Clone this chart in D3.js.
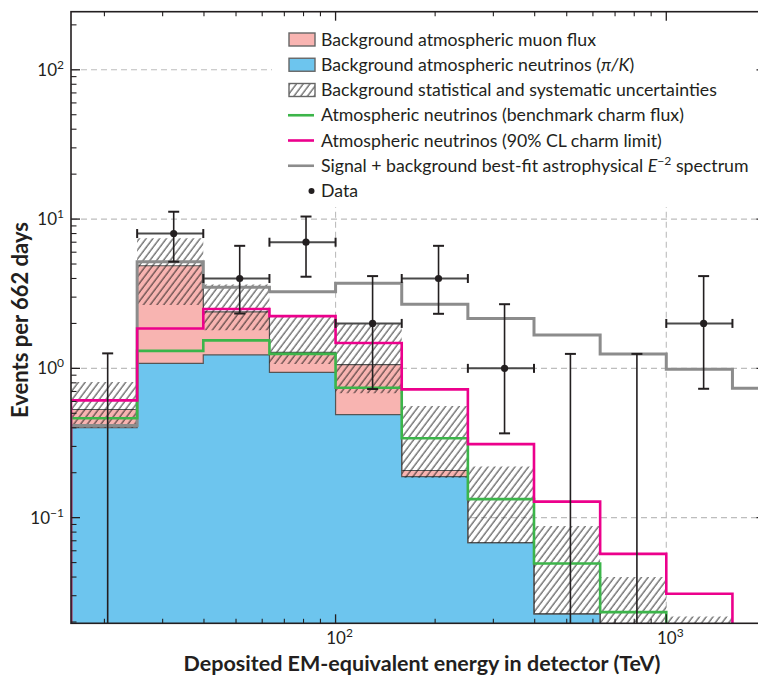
<!DOCTYPE html>
<html><head><meta charset="utf-8">
<script src="https://cdn.jsdelivr.net/npm/d3@7"></script>
<style>body{margin:0;background:#fff} svg{display:block} text{font-family:Lato,"Open Sans",sans-serif;fill:#231f20}</style>
</head><body>
<svg id="c" width="758" height="675"></svg>
<script>
// ---- data ----
const binEdges = [15.85, 25.12, 39.81, 63.10, 100, 158.5, 251.2, 398.1, 631.0, 1000, 1585, 2512];
const piKNeutrinos = [0.40, 1.08, 1.23, 0.94, 0.49, 0.188, 0.068, 0.0227];
const muonFlux = [0.13, 3.79, 1.16, 0.34, 0.57, 0.019, 0, 0];
const uncertHigh = [0.81, 7.45, 3.65, 2.22, 1.98, 0.56, 0.22, 0.088, 0.0401, 0.0218];
const uncertLow = [0.40, 2.66, 1.80, 1.07, 0.68, 0.185, 0.068, 0.0227, 0, 0];
const charmBenchmark = [0.463, 1.31, 1.54, 1.25, 0.742, 0.34, 0.133, 0.0493, 0.0233];
const charmLimit = [0.61, 1.85, 2.50, 2.24, 1.48, 0.723, 0.311, 0.128, 0.0572, 0.0309];
const signalPlusBg = [0.415, 5.18, 3.49, 3.26, 3.71, 2.69, 2.16, 1.67, 1.25, 0.985, 0.735];
const dataEnergy = [20.46, 32.4, 51.3, 81.4, 129.4, 204.8, 324.3, 513, 815, 1297];
const dataBin = [0, 1, 2, 3, 4, 5, 6, 7, 8, 9];
const dataCounts = [0, 8, 4, 7, 2, 4, 1, 0, 0, 2];
const dataErrHigh = [1.26, 11.2, 6.62, 10.4, 4.15, 6.62, 2.69, 1.25, 1.25, 4.15];
const dataErrLow = [0, 5.18, 2.33, 4.11, 0.727, 2.32, 0.367, 0, 0, 0.73];
const yTickValues = [0.1, 1, 10, 100];
const xTickValues = [100, 1000];
const legendLabels = [
  "Background atmospheric muon flux",
  "Background atmospheric neutrinos ",
  "Background statistical and systematic uncertainties",
  "Atmospheric neutrinos (benchmark charm flux)",
  "Atmospheric neutrinos (90% CL charm limit)",
  "Signal + background best-fit astrophysical ",
  "Data"
];
const xTitle = "Deposited EM-equivalent energy in detector (TeV)";
const yTitle = "Events per 662 days";

// ---- layout ----
const L = 71, R = 765.5, T = 11.7, B = 623.3;
const svg = d3.select("#c");
const x = d3.scaleLog().domain([Math.pow(10,1.2), Math.pow(10,3.3)]).range([L, R]);
const y = d3.scaleLog().domain([0.0196, 245]).range([B, T]);
const Y = v => (v && v > 0) ? y(v) : B + 3;

function fit(t, target){ const fs = +t.attr("font-size"); const w = t.node().getComputedTextLength(); t.attr("font-size", (fs*target/w).toFixed(2)); return fs*target/w; }

const defs = svg.append("defs");
defs.append("clipPath").attr("id","clip").append("rect").attr("x",L).attr("y",T).attr("width",R-L).attr("height",B-T);
const pat = defs.append("pattern").attr("id","hatch").attr("patternUnits","userSpaceOnUse")
  .attr("width",5.4).attr("height",10).attr("patternTransform","rotate(37)");
pat.append("line").attr("x1",1).attr("y1",-1).attr("x2",1).attr("y2",11).attr("stroke","#111").attr("stroke-width",0.9);

// gridlines
const grid = svg.append("g").attr("stroke","#bdbdbd").attr("stroke-width",1.1).attr("stroke-dasharray","6,4");
yTickValues.forEach(v => grid.append("line").attr("x1",L).attr("x2",R).attr("y1",y(v)).attr("y2",y(v)));
xTickValues.forEach(v => grid.append("line").attr("x1",x(v)).attr("x2",x(v)).attr("y1",T).attr("y2",B));

const plot = svg.append("g").attr("clip-path","url(#clip)");

function stepPts(vals){
  const p=[]; vals.forEach((v,i)=>{ p.push({e:binEdges[i],v}); p.push({e:binEdges[i+1],v}); }); return p;
}
const stackTop = piKNeutrinos.map((v,i)=>v+muonFlux[i]);

const areaG = d3.area().x(d=>x(d.e)).y0(B+3).y1(d=>Y(d.v));
plot.append("path").attr("d",areaG(stepPts(piKNeutrinos))).attr("fill","#6dc5ee").attr("stroke","none");
const bandG = d3.area().x(d=>x(d.e)).y0(d=>Y(d.v[0])).y1(d=>Y(d.v[1]));
plot.append("path").attr("d",bandG(stepPts(piKNeutrinos.map((v,i)=>[v,stackTop[i]]))))
  .attr("fill","#f8b4b1").attr("stroke","none");
const lineG = d3.line().x(d=>x(d.e)).y(d=>Y(d.v));
function stepLine(vals){ const p=stepPts(vals); p.unshift({e:binEdges[0],v:0}); p.push({e:binEdges[vals.length],v:0}); return lineG(p); }
plot.append("path").attr("d",stepLine(piKNeutrinos)).attr("fill","none").attr("stroke","#555").attr("stroke-width",1.2);
plot.append("path").attr("d",stepLine(stackTop)).attr("fill","none").attr("stroke","#555").attr("stroke-width",1.2);
plot.append("path").attr("d",bandG(stepPts(uncertLow.map((v,i)=>[v,uncertHigh[i]])))).attr("fill","url(#hatch)");
plot.append("path").attr("d",stepLine(signalPlusBg)).attr("fill","none").attr("stroke","#8c8c8c").attr("stroke-width",3);
plot.append("path").attr("d",stepLine(charmBenchmark)).attr("fill","none").attr("stroke","#3cb54a").attr("stroke-width",2.6);
plot.append("path").attr("d",stepLine(charmLimit)).attr("fill","none").attr("stroke","#ec008c").attr("stroke-width",2.6);

// data
const dg = svg.append("g");
dataEnergy.forEach((e,i)=>{
  const cx = x(e), b = dataBin[i];
  const yt = Y(dataErrHigh[i]), yb = dataErrLow[i]>0 ? Y(dataErrLow[i]) : B;
  dg.append("line").attr("x1",cx).attr("x2",cx).attr("y1",yt).attr("y2",yb).attr("stroke","#231f20").attr("stroke-width",1.6);
  dg.append("line").attr("x1",cx-5.5).attr("x2",cx+5.5).attr("y1",yt).attr("y2",yt).attr("stroke","#231f20").attr("stroke-width",2);
  if (dataErrLow[i]>0) dg.append("line").attr("x1",cx-5.5).attr("x2",cx+5.5).attr("y1",yb).attr("y2",yb).attr("stroke","#231f20").attr("stroke-width",2);
  if (dataCounts[i]>0){
    const cy = y(dataCounts[i]), x0 = x(binEdges[b]), x1 = x(binEdges[b+1]);
    dg.append("line").attr("x1",x0).attr("x2",x1).attr("y1",cy).attr("y2",cy).attr("stroke","#4a4a4a").attr("stroke-width",2);
    [x0,x1].forEach(xx=>dg.append("line").attr("x1",xx).attr("x2",xx).attr("y1",cy-4.5).attr("y2",cy+4.5).attr("stroke","#231f20").attr("stroke-width",2));
    dg.append("circle").attr("cx",cx).attr("cy",cy).attr("r",3.6).attr("fill","#231f20");
  }
});

// legend background
svg.append("rect").attr("x",272).attr("y",T+1).attr("width",R-272).attr("height",206-T).attr("fill","#fff");

// axes frame and ticks
const ax = svg.append("g").attr("stroke","#231f20");
ax.append("rect").attr("x",L).attr("y",T).attr("width",R-L).attr("height",B-T).attr("fill","none").attr("stroke-width",1.6);
const xMinor = [], yMinor = [];
[10,100,1000].forEach(d=>{ for(let k=2;k<=9;k++){ const v=d*k; if(v>x.domain()[0] && v<x.domain()[1]) xMinor.push(v);} });
[0.01,0.1,1,10,100].forEach(d=>{ for(let k=2;k<=9;k++){ const v=d*k; if(v>y.domain()[0] && v<y.domain()[1]) yMinor.push(v);} });
xTickValues.forEach(v=>{ ax.append("line").attr("x1",x(v)).attr("x2",x(v)).attr("y1",B).attr("y2",B-9).attr("stroke-width",1.3);
  ax.append("line").attr("x1",x(v)).attr("x2",x(v)).attr("y1",T).attr("y2",T+9).attr("stroke-width",1.3); });
xMinor.forEach(v=>{ ax.append("line").attr("x1",x(v)).attr("x2",x(v)).attr("y1",B).attr("y2",B-4.5).attr("stroke-width",1.1);
  ax.append("line").attr("x1",x(v)).attr("x2",x(v)).attr("y1",T).attr("y2",T+4.5).attr("stroke-width",1.1); });
yTickValues.forEach(v=>{ ax.append("line").attr("x1",L).attr("x2",L+9).attr("y1",y(v)).attr("y2",y(v)).attr("stroke-width",1.3);
  ax.append("line").attr("x1",R).attr("x2",R-9).attr("y1",y(v)).attr("y2",y(v)).attr("stroke-width",1.3); });
yMinor.forEach(v=>{ ax.append("line").attr("x1",L).attr("x2",L+5.5).attr("y1",y(v)).attr("y2",y(v)).attr("stroke-width",1.1);
  ax.append("line").attr("x1",R).attr("x2",R-5.5).attr("y1",y(v)).attr("y2",y(v)).attr("stroke-width",1.1); });

// tick labels
function powLabel(g, v, xx, yy, anchor){
  const t = g.append("text").attr("x",xx).attr("y",yy).attr("text-anchor",anchor).attr("font-size",17).attr("fill","#333");
  t.append("tspan").text("10");
  const e = Math.round(Math.log10(v));
  t.append("tspan").attr("dy",-7).attr("font-size",12).text(e<0 ? "\u2212"+(-e) : e);
}
yTickValues.forEach(v=>powLabel(svg, v, 64, y(v)+6, "end"));
xTickValues.forEach(v=>powLabel(svg, v, x(v)+4, 644, "middle"));

// titles
const xt = svg.append("text").attr("x",422).attr("y",671).attr("text-anchor","middle").attr("font-size",18).attr("font-weight","bold").text(xTitle);
fit(xt, 477);
const yt = svg.append("text").attr("transform","translate(28,320) rotate(-90)").attr("text-anchor","middle").attr("font-size",18).attr("font-weight","bold").text(yTitle);
fit(yt, 196);

// legend
const lg = svg.append("g");
const rowY = i => 39.5 + i*25.25;
lg.append("rect").attr("x",289).attr("y",rowY(0)-6.5).attr("width",26).attr("height",13).attr("fill","#f8b4b1").attr("stroke","#666").attr("stroke-width",1.4);
lg.append("rect").attr("x",289).attr("y",rowY(1)-6.5).attr("width",26).attr("height",13).attr("fill","#6dc5ee").attr("stroke","#666").attr("stroke-width",1.4);
lg.append("rect").attr("x",289).attr("y",rowY(2)-6.5).attr("width",26).attr("height",13).attr("fill","#fff").attr("stroke","none");
lg.append("rect").attr("x",289).attr("y",rowY(2)-6.5).attr("width",26).attr("height",13).attr("fill","url(#hatch)").attr("stroke","#666").attr("stroke-width",1.4);
[["#3cb54a",3],["#ec008c",4],["#8c8c8c",5]].forEach(([c,i])=>lg.append("line").attr("x1",288).attr("x2",314).attr("y1",rowY(i)).attr("y2",rowY(i)).attr("stroke",c).attr("stroke-width",2.6));
lg.append("circle").attr("cx",311.5).attr("cy",rowY(6)).attr("r",3).attr("fill","#231f20");
const texts = legendLabels.map((s,i)=>{
  const t = lg.append("text").attr("x",321).attr("y",rowY(i)+6).attr("font-size",16);
  t.append("tspan").text(s);
  if(i===1){ t.append("tspan").text("("); t.append("tspan").attr("font-style","italic").text("\u03c0/K"); t.append("tspan").text(")"); }
  if(i===5){ t.append("tspan").attr("font-style","italic").text("E");
    t.append("tspan").attr("dy",-6).attr("font-size",11).text("\u22122");
    t.append("tspan").attr("dy",6).text(" spectrum"); }
  return t;
});
const w5 = texts[5].node().getComputedTextLength();
const k = 428 / w5;
texts.forEach(t=>{ t.attr("font-size",(16*k).toFixed(2)); t.selectAll("tspan").each(function(){ const s=d3.select(this); if(s.attr("font-size")) s.attr("font-size",(11*k).toFixed(2)); if(s.attr("dy")) s.attr("dy",(+s.attr("dy")*k).toFixed(2)); }); });
</script>
</body></html>
